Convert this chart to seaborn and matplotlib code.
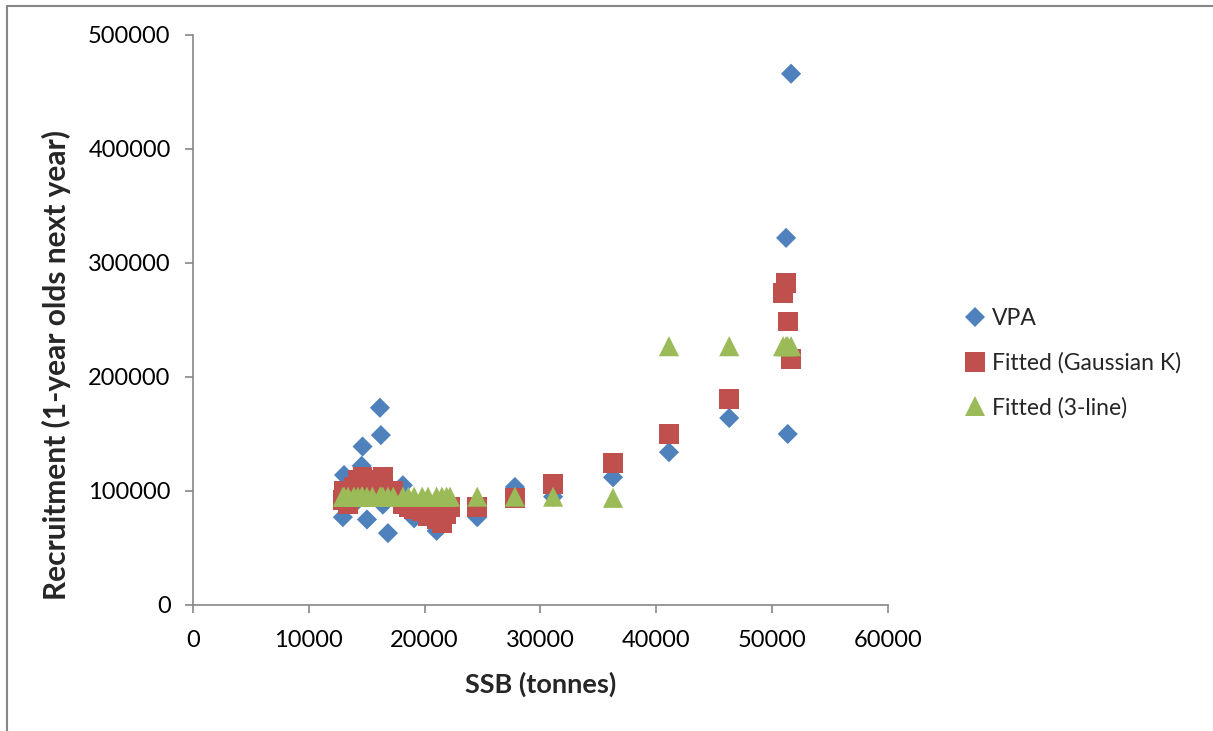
import matplotlib
matplotlib.use("Agg")
import matplotlib.pyplot as plt
import seaborn as sns
import pandas as pd
from matplotlib.lines import Line2D
from matplotlib.ticker import MultipleLocator

# SSB (tonnes) for each year
ssb = [12950, 13050, 13400, 13900, 14250, 14570, 14650, 15030, 15500, 16150,
       16230, 16400, 16840, 17300, 18130, 18600, 19100, 19800, 20300, 21040,
       21500, 21900, 22200, 24550, 27800, 31100, 36270, 41100, 46300, 50950,
       51210, 51350, 51640]

# recruitment (1-year olds next year)
vpa = [77000, 114000, 95000, 100000, 92000, 122000, 139000, 75000, 95000, 173000,
       149000, 88000, 63000, 96000, 105000, 85000, 76000, 82000, 78000, 65000,
       70000, 88000, 85000, 77000, 103500, 95000, 112000, 134000, 164000, 275000,
       322000, 150000, 466000]

fitted_gauss = [92000, 100000, 88000, 104000, 110000, 108000, 112000, 96000, 110000, 110000,
                104000, 112000, 98000, 100000, 88000, 86000, 84000, 82000, 78000, 75000,
                72000, 80000, 86000, 86000, 94000, 106000, 124500, 150000, 180700, 273700,
                282500, 248500, 215800]

fitted_3line = [95000] * 26 + [94000] + [227000] * 6

df = pd.DataFrame({"ssb": ssb, "vpa": vpa, "gauss": fitted_gauss, "line3": fitted_3line})

sns.set_theme(style="white")
plt.rcParams["font.family"] = ["Lato", "DejaVu Sans"]

fig = plt.figure(figsize=(12.13, 7.31), dpi=100)
ax = fig.add_axes([0.159, 0.1724, 0.573, 0.7798])

blue = "#4F81BD"
red = "#C0504D"
green = "#9BBB59"

sns.scatterplot(data=df, x="ssb", y="vpa", marker="D", s=105, color=blue,
                edgecolor="none", label="VPA", ax=ax, zorder=3)
sns.scatterplot(data=df, x="ssb", y="gauss", marker="s", s=200, color=red,
                edgecolor="none", label="Fitted (Gaussian K)", ax=ax, zorder=4)
sns.scatterplot(data=df, x="ssb", y="line3", marker="^", s=210, color=green,
                edgecolor="none", label="Fitted (3-line)", ax=ax, zorder=5)

ax.set_xlim(0, 60000)
ax.set_ylim(0, 500000)
ax.xaxis.set_major_locator(MultipleLocator(10000))
ax.yaxis.set_major_locator(MultipleLocator(100000))

for side in ["top", "right"]:
    ax.spines[side].set_visible(False)
for side in ["left", "bottom"]:
    ax.spines[side].set_color("#868686")
    ax.spines[side].set_linewidth(1.2)

ax.tick_params(axis="both", which="major", length=6, width=1.2, color="#868686",
               direction="out", labelsize=17, labelcolor="black", bottom=True, left=True)
ax.tick_params(axis="x", pad=12)
ax.tick_params(axis="y", pad=10)

ax.set_xlabel("SSB (tonnes)", fontsize=19.5, fontweight="bold", labelpad=15)
ax.set_ylabel("Recruitment (1-year olds next year)", fontsize=21.5, fontweight="bold")
ax.yaxis.set_label_coords(-0.175, 0.421)

ax.legend_.remove()
handles = [
    Line2D([], [], marker="D", linestyle="none", color=blue, markersize=10, markeredgewidth=0),
    Line2D([], [], marker="s", linestyle="none", color=red, markersize=14, markeredgewidth=0),
    Line2D([], [], marker="^", linestyle="none", color=green, markersize=14, markeredgewidth=0),
]
fig.legend(handles, ["VPA", "Fitted (Gaussian K)", "Fitted (3-line)"],
           loc="center left", bbox_to_anchor=(0.778, 0.503), frameon=False,
           fontsize=16.5, labelspacing=1.0, handlelength=0.9, handletextpad=0.3)

# chart area border
fig.add_artist(Line2D([7 / 1213, 7 / 1213], [0, 1 - 6 / 731], transform=fig.transFigure,
                      color="#868686", linewidth=1.5))
fig.add_artist(Line2D([7 / 1213, 1], [1 - 6 / 731, 1 - 6 / 731], transform=fig.transFigure,
                      color="#868686", linewidth=1.5))

fig.savefig("out.png", dpi=100)
